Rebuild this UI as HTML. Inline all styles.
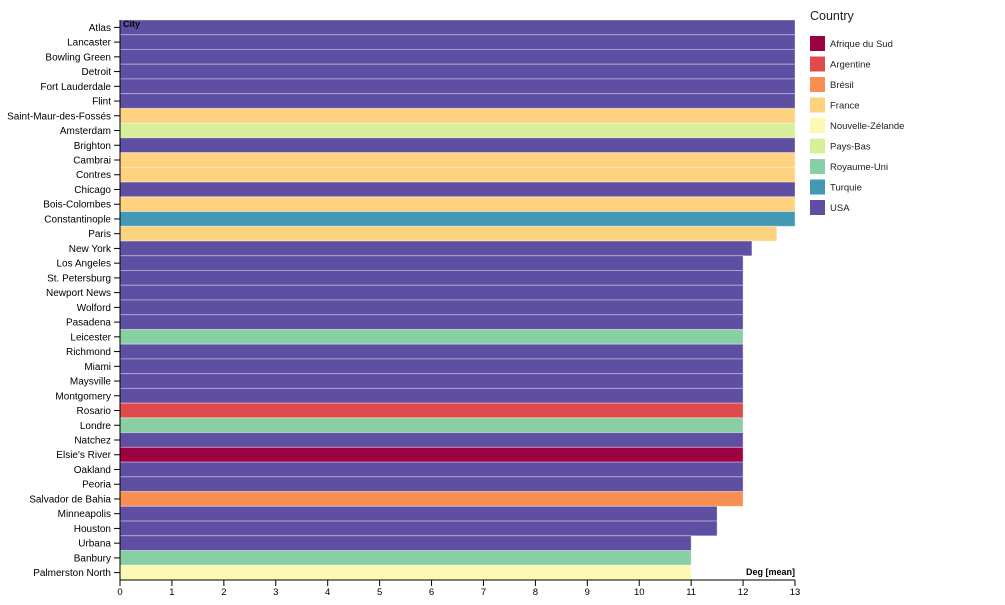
<!DOCTYPE html>
<html><head><meta charset="utf-8"><style>
body{margin:0;background:#fff;font-family:"Liberation Sans",sans-serif;}
svg text{font-family:"Liberation Sans",sans-serif;}
</style></head><body>
<svg id="chart" width="1005" height="600" xmlns="http://www.w3.org/2000/svg"></svg>
<script>
const cities=["Atlas","Lancaster","Bowling Green","Detroit","Fort Lauderdale","Flint","Saint-Maur-des-Fossés","Amsterdam","Brighton","Cambrai","Contres","Chicago","Bois-Colombes","Constantinople","Paris","New York","Los Angeles","St. Petersburg","Newport News","Wolford","Pasadena","Leicester","Richmond","Miami","Maysville","Montgomery","Rosario","Londre","Natchez","Elsie's River","Oakland","Peoria","Salvador de Bahia","Minneapolis","Houston","Urbana","Banbury","Palmerston North"];
const values=[13,13,13,13,13,13,13,13,13,13,13,13,13,13,12.65,12.17,12,12,12,12,12,12,12,12,12,12,12,12,12,12,12,12,12,11.5,11.5,11,11,11];
const countryOf=["USA","USA","USA","USA","USA","USA","France","Pays-Bas","USA","France","France","USA","France","Turquie","France","USA","USA","USA","USA","USA","USA","Royaume-Uni","USA","USA","USA","USA","Argentine","Royaume-Uni","USA","Afrique du Sud","USA","USA","Brésil","USA","USA","USA","Royaume-Uni","Nouvelle-Zélande"];
const countries=["Afrique du Sud","Argentine","Brésil","France","Nouvelle-Zélande","Pays-Bas","Royaume-Uni","Turquie","USA"];
const colors=["#9e0142","#e04a4a","#f98e52","#fed27f","#fdf8b3","#d7ef9b","#88cfa4","#4298b5","#5e4fa2"];
const xTicks=[0,1,2,3,4,5,6,7,8,9,10,11,12,13];

const svg=document.getElementById('chart');const NS="http://www.w3.org/2000/svg";
const L=120,R=795,T=20,B=580,xMax=13;
const x=v=>L+v/xMax*(R-L);
const bh=(B-T)/cities.length;
const y=i=>T+i*bh;
function mk(t,a,p){const e=document.createElementNS(NS,t);for(const k in a)e.setAttribute(k,a[k]);(p||svg).appendChild(e);return e;}
const gb=mk('g',{});


cities.forEach((c,i)=>{
  const r=mk('rect',{x:L,y:y(i),width:x(values[i])-L,height:bh,fill:colors[countries.indexOf(countryOf[i])],stroke:"rgba(255,255,255,0.35)","stroke-width":1},gb);
  
  
  const t=mk('text',{x:L-9,y:y(i)+bh/2+3.5,"text-anchor":"end","font-size":10,fill:"#000"});
  t.textContent=c;
  
  
  mk('line',{x1:L-6,x2:L,y1:y(i)+bh/2,y2:y(i)+bh/2,stroke:"#000"});
});
mk('line',{x1:L,x2:L,y1:T,y2:B,stroke:"#000"});
mk('line',{x1:L,x2:R,y1:B,y2:B,stroke:"#000"});
xTicks.forEach(v=>{
  mk('line',{x1:x(v),x2:x(v),y1:B,y2:B+6,stroke:"#000"});
  const t=mk('text',{x:x(v),y:B+15,"text-anchor":"middle","font-size":9.5});
  t.textContent=v;
  
  
});
const yt=mk('text',{x:L+3,y:T+7,"font-size":9,"font-weight":"bold"});yt.textContent="City";


const xt=mk('text',{x:R,y:B-5,"text-anchor":"end","font-size":9,"font-weight":"bold"});xt.textContent="Deg [mean]";


const lt=mk('text',{x:810,y:20,"font-size":12.5,fill:"#222"});lt.textContent="Country";


countries.forEach((c,i)=>{
  const g=mk('g',{});
  
  
  mk('rect',{x:810,y:36+i*20.5,width:15,height:15,fill:colors[i]},g);
  const t=mk('text',{x:830,y:47+i*20.5,"font-size":9.5,fill:"#222"},g);t.textContent=c;
});
</script>
</body></html>
